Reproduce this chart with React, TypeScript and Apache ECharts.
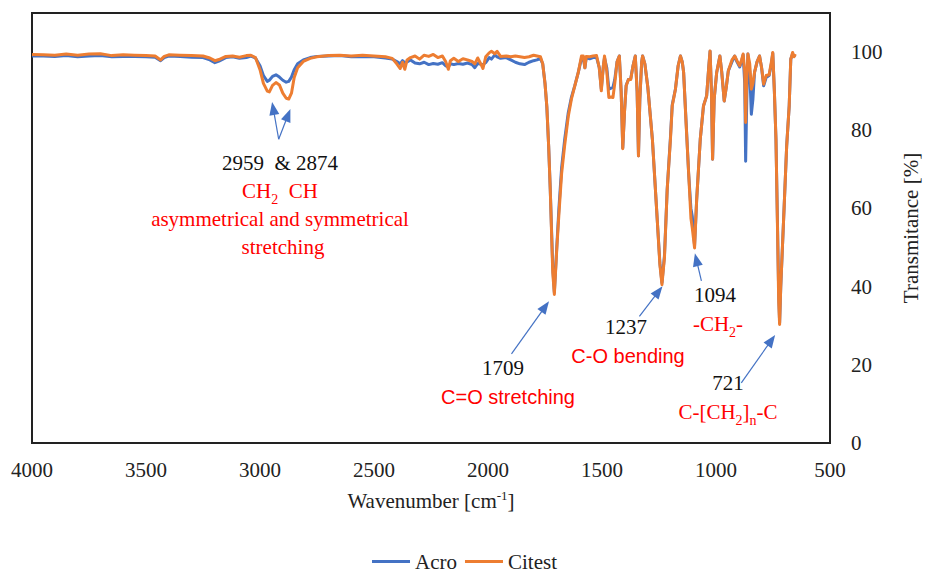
import React, { useEffect, useRef } from "react";
import * as echarts from "echarts";

// Wavenumber grid [cm-1] shared by both spectra
const wavenumbers = [
  4000, 3950, 3900, 3850, 3800, 3750, 3700, 3650, 3600, 3550, 3500, 3460, 3436, 3420, 3400, 3350, 3300, 3250, 3220, 3198,
  3180, 3150, 3120, 3090, 3060, 3040, 3020, 3000, 2985, 2968, 2959, 2945, 2930, 2915, 2900, 2885, 2874, 2862, 2850, 2835,
  2810, 2780, 2750, 2700, 2650, 2600, 2550, 2500, 2450, 2420, 2400, 2385, 2375, 2365, 2355, 2340, 2320, 2300, 2280, 2260,
  2240, 2220, 2200, 2185, 2174, 2165, 2150, 2130, 2110, 2090, 2070, 2058, 2045, 2030, 2022, 2010, 1995, 1985, 1970, 1960,
  1945, 1920, 1900, 1880, 1860, 1840, 1820, 1800, 1785, 1770, 1760, 1750, 1742, 1734, 1727, 1716, 1709, 1698, 1689, 1677,
  1664, 1648, 1634, 1619, 1604, 1590, 1582, 1575, 1569, 1554, 1539, 1524, 1512, 1503, 1494, 1489, 1479, 1470, 1460, 1452,
  1444, 1434, 1424, 1416, 1409, 1401, 1394, 1384, 1374, 1364, 1354, 1346, 1340, 1334, 1326, 1322, 1312, 1299, 1279, 1257,
  1246, 1237, 1226, 1214, 1200, 1192, 1178, 1166, 1156, 1148, 1142, 1131, 1120, 1110, 1104, 1094, 1085, 1069, 1055, 1041,
  1032, 1026, 1020, 1015, 1008, 997, 983, 975, 964, 955, 946, 930, 918, 908, 896, 888, 881, 874, 870, 865,
  860, 852, 845, 838, 831, 820, 809, 800, 791, 780, 767, 757, 751, 744, 737, 730, 725, 721, 716, 701,
  690, 679, 672, 664, 658, 652,
];

// Transmittance [%] of the "Acro" sample
const acro = [
  99.0, 99.0, 98.9, 99.1, 98.8, 99.0, 99.1, 98.8, 98.9, 98.9, 98.8, 98.7, 97.8, 98.6, 99.0, 98.9, 98.7, 98.6, 98.0, 97.3,
  97.7, 98.6, 98.8, 98.4, 98.6, 99.0, 98.5, 96.5, 94.0, 92.5, 92.8, 93.8, 94.2, 93.6, 92.8, 92.3, 92.5, 93.6, 95.5, 97.0,
  98.0, 98.6, 98.9, 99.0, 99.1, 98.8, 98.9, 98.8, 98.5, 98.2, 97.6, 97.0, 97.8, 97.3, 97.5, 98.0, 97.2, 97.0, 97.4, 96.8,
  97.1, 96.9, 97.3, 96.5, 96.2, 97.0, 96.8, 97.1, 96.9, 97.2, 96.8, 96.0, 97.1, 96.9, 96.8, 97.3, 98.6, 98.2, 99.3, 98.8,
  98.4, 98.6, 98.0, 97.4, 97.0, 96.8, 97.4, 97.8, 98.0, 98.4, 97.0, 92.0, 86.0, 76.0, 65.0, 45.0, 38.5, 50.5, 60.0, 70.5,
  77.5, 84.5, 88.5, 91.5, 94.8, 98.4, 98.6, 96.0, 98.6, 98.3, 98.6, 98.7, 96.0, 90.5, 96.5, 98.5, 96.0, 90.5, 90.8, 91.0,
  93.0, 97.5, 99.0, 90.0, 75.5, 85.0, 91.5, 93.0, 93.2, 96.5, 99.0, 90.0, 73.5, 88.0, 97.5, 99.0, 97.0, 91.0, 77.7, 56.4,
  46.0, 41.0, 48.0, 64.9, 78.0, 86.5, 90.5, 96.5, 99.0, 97.5, 94.8, 82.0, 69.0, 60.0, 58.0, 50.5, 62.0, 77.7, 86.2, 88.8,
  96.0, 100.2, 90.0, 72.6, 88.0, 94.8, 99.0, 95.0, 87.5, 91.0, 95.2, 97.5, 99.0, 97.5, 96.2, 97.5, 99.3, 92.0, 72.1, 88.0,
  99.5, 95.0, 84.1, 88.0, 94.8, 97.5, 99.0, 96.0, 91.4, 93.5, 94.0, 97.0, 99.7, 90.0, 77.7, 55.0, 38.0, 30.8, 40.0, 60.6,
  76.0, 86.2, 98.2, 99.5, 99.0, 99.3,
];

// Transmittance [%] of the "Citest" sample
const citest = [
  99.4, 99.3, 99.2, 99.5, 99.2, 99.5, 99.6, 99.1, 99.3, 99.2, 99.1, 99.0, 98.0, 98.9, 99.3, 99.2, 99.1, 99.0, 98.5, 97.8,
  98.1, 98.9, 99.0, 98.7, 99.1, 99.2, 98.6, 95.5, 92.0, 90.0, 89.8, 91.5, 92.2, 91.6, 89.5, 88.2, 88.0, 89.5, 93.5, 96.0,
  97.6, 98.4, 98.8, 99.1, 99.2, 99.0, 99.2, 99.0, 98.8, 98.4, 97.0, 95.8, 97.4, 95.6, 98.0, 98.6, 99.0, 98.2, 99.2, 98.9,
  99.4, 98.6, 99.0, 97.5, 95.6, 97.8, 98.4, 97.6, 98.3, 98.0, 97.6, 97.0, 98.5, 96.8, 95.8, 98.8, 99.8, 100.2, 99.6, 100.2,
  98.9, 99.0, 98.8, 99.0, 98.8, 98.6, 98.8, 99.2, 99.0, 98.8, 97.0, 92.0, 86.2, 76.0, 64.9, 43.6, 38.0, 50.0, 58.5, 69.0,
  76.0, 83.5, 88.0, 91.4, 94.8, 99.0, 99.0, 96.0, 98.9, 98.8, 99.0, 99.1, 96.0, 90.1, 96.5, 99.0, 95.0, 88.4, 88.5, 88.4,
  92.0, 97.5, 99.0, 90.0, 75.3, 85.0, 91.4, 93.0, 93.0, 96.5, 99.0, 90.0, 73.4, 88.0, 97.5, 99.0, 97.0, 91.0, 77.7, 56.4,
  45.5, 40.5, 47.5, 64.9, 77.5, 86.2, 90.5, 96.5, 99.0, 97.5, 94.8, 81.5, 69.0, 57.5, 55.0, 49.9, 62.0, 77.7, 86.2, 88.8,
  96.0, 100.3, 90.0, 72.6, 88.0, 94.8, 99.0, 95.0, 87.5, 91.0, 95.2, 98.0, 99.0, 97.8, 96.5, 98.0, 99.5, 95.0, 82.0, 93.0,
  99.5, 97.0, 90.5, 92.0, 94.8, 97.5, 99.0, 96.0, 91.8, 94.0, 94.2, 97.5, 99.9, 90.0, 77.7, 54.0, 36.0, 30.3, 40.0, 60.6,
  76.0, 86.2, 98.2, 99.9, 98.8, 99.5,
];

const seriesNames = ["Acro", "Citest"];

// Annotation arrows: [tail, head] as [wavenumber, transmittance]
const arrowPairs: [number, number][][] = [
  [[2918, 77.7], [2942, 85.6]],
  [[2918, 77.7], [2877, 83.9]],
  [[1897, 22.8], [1749, 34.9]],
  [[1336, 32.4], [1252, 38.8]],
  [[1064, 41.5], [1086, 46.9]],
  [[889, 15.4], [757, 26.3]],
];

const SERIF = "'Liberation Serif', 'Times New Roman', serif";
const TICK_FONT = "Liberation Serif";
const SANS = "'Liberation Sans', Arial, sans-serif";
const RED = "#ff0000";
const INK = "#111111";
const AXIS_INK = "#222222";
const BLUE = "#4472C4";
const ORANGE = "#ED7D31";

function plainText(x: number, y: number, text: string, fill: string, family: string, size = 21) {
  return {
    type: "text",
    x,
    y,
    silent: true,
    style: { text, fill, fontFamily: family, fontSize: size, align: "center", verticalAlign: "middle" },
  };
}

function subText(x: number, y: number, text: string, fill: string) {
  return {
    type: "text",
    x,
    y: y + 2.5,
    silent: true,
    style: {
      text,
      fill,
      fontFamily: SERIF,
      fontSize: 21,
      align: "center",
      verticalAlign: "middle",
      rich: {
        m: { fill, fontFamily: SERIF, fontSize: 21, verticalAlign: "top" },
        s: { fill, fontFamily: SERIF, fontSize: 14, verticalAlign: "bottom", padding: [12, 0, 0, 0] },
      },
    },
  };
}

export default function App() {
  const ref = useRef<HTMLDivElement>(null);

  useEffect(() => {
    document.body.style.margin = "0";
    if (!ref.current) return;
    const chart = echarts.init(ref.current, undefined, { renderer: "svg" });

    const option: any = {
      animation: false,
      backgroundColor: "#ffffff",
      textStyle: { fontFamily: TICK_FONT },
      grid: {
        left: 32,
        right: 89,
        top: 13,
        bottom: 130,
        show: true,
        borderColor: "#222222",
        borderWidth: 2,
        backgroundColor: "transparent",
      },
      xAxis: {
        type: "value",
        inverse: true,
        min: 500,
        max: 4000,
        interval: 500,
        axisLine: { show: false },
        axisTick: { show: false },
        splitLine: { show: false },
        axisLabel: {
          margin: 16,
          fontFamily: TICK_FONT,
          fontSize: 21,
          fontWeight: "normal",
          color: AXIS_INK,
          formatter: (v: number) => String(v),
        },
        name: "Wavenumber [cm{sup|-1}]",
        nameLocation: "middle",
        nameGap: 46,
        nameTextStyle: {
          fontFamily: SERIF,
          fontSize: 21,
          color: AXIS_INK,
          rich: {
            sup: { fontFamily: SERIF, fontSize: 13, color: AXIS_INK, verticalAlign: "top", padding: [0, 0, 10, 0] },
          },
        },
      },
      yAxis: {
        type: "value",
        position: "right",
        min: 0,
        max: 110,
        interval: 20,
        axisLine: { show: false },
        axisTick: { show: false },
        splitLine: { show: false },
        axisLabel: {
          margin: 21,
          fontFamily: TICK_FONT,
          fontSize: 21,
          fontWeight: "normal",
          color: AXIS_INK,
          formatter: (v: number) => (v > 100 ? "" : String(v)),
        },
        name: "Transmitance [%]",
        nameLocation: "middle",
        nameRotate: 90,
        nameGap: 70,
        nameTextStyle: { fontFamily: SERIF, fontSize: 21, color: AXIS_INK },
      },
      legend: {
        top: 551,
        left: "center",
        padding: 0,
        icon: "rect",
        itemWidth: 38,
        itemHeight: 3,
        itemGap: 8,
        textStyle: { fontFamily: SERIF, fontSize: 21, color: AXIS_INK },
        data: seriesNames,
      },
      series: [
        {
          name: seriesNames[0],
          type: "line",
          showSymbol: false,
          data: wavenumbers.map((w, i) => [w, acro[i]]),
          lineStyle: { color: BLUE, width: 3, join: "round" },
          itemStyle: { color: BLUE },
        },
        {
          name: seriesNames[1],
          type: "line",
          showSymbol: false,
          data: wavenumbers.map((w, i) => [w, citest[i]]),
          lineStyle: { color: ORANGE, width: 3, join: "round" },
          itemStyle: { color: ORANGE },
          markLine: {
            silent: true,
            animation: false,
            symbol: ["none", "triangle"],
            symbolSize: [10, 13],
            label: { show: false },
            lineStyle: { color: BLUE, width: 1.2, type: "solid" },
            emphasis: { disabled: true },
            data: arrowPairs.map(([a, b]) => [{ coord: a }, { coord: b }]),
          },
        },
      ],
      graphic: [
        plainText(280, 163, "2959  & 2874", INK, SERIF),
        subText(280, 191, "{m|CH}{s|2}{m|  CH}", RED),
        plainText(280, 219, "asymmetrical and symmetrical", RED, SERIF),
        plainText(283, 247, "stretching", RED, SERIF),
        plainText(503, 368, "1709", INK, SERIF),
        plainText(508, 397, "C=O stretching", RED, SANS, 20),
        plainText(626, 327, "1237", INK, SERIF),
        plainText(628, 356, "C-O bending", RED, SANS, 20),
        plainText(715, 295, "1094", INK, SERIF),
        subText(718, 324, "{m|-CH}{s|2}{m|-}", RED),
        plainText(728, 383, "721", INK, SERIF),
        subText(728, 412, "{m|C-[CH}{s|2}{m|]}{s|n}{m|-C}", RED),
      ],
    };

    chart.setOption(option);
    return () => chart.dispose();
  }, []);

  return <div ref={ref} style={{ width: 929, height: 573 }} />;
}
